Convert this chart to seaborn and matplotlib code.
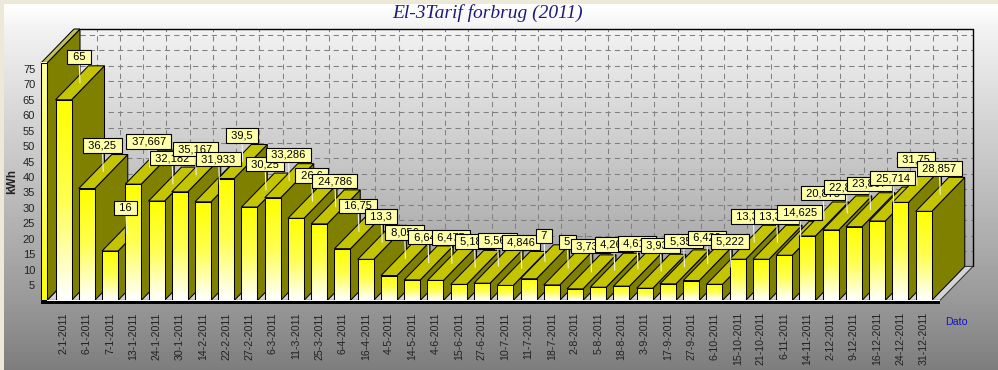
import numpy as np
import pandas as pd
import matplotlib
matplotlib.use("Agg")
import matplotlib.pyplot as plt
from matplotlib.colors import LinearSegmentedColormap
from matplotlib.patches import Polygon, Rectangle
import seaborn as sns

# --- Datos ---
dates = ["2-1-2011", "6-1-2011", "7-1-2011", "13-1-2011", "24-1-2011", "30-1-2011", "14-2-2011",
         "22-2-2011", "27-2-2011", "6-3-2011", "11-3-2011", "25-3-2011", "6-4-2011", "16-4-2011",
         "4-5-2011", "14-5-2011", "4-6-2011", "15-6-2011", "27-6-2011", "10-7-2011", "11-7-2011",
         "18-7-2011", "2-8-2011", "5-8-2011", "18-8-2011", "3-9-2011", "17-9-2011", "27-9-2011",
         "6-10-2011", "15-10-2011", "21-10-2011", "6-11-2011", "14-11-2011", "2-12-2011",
         "9-12-2011", "16-12-2011", "24-12-2011", "31-12-2011"]
kwh = [65, 36.25, 16, 37.667, 32.182, 35.167, 31.933, 39.5, 30.25, 33.286, 26.6, 24.786, 16.75,
       13.3, 8.056, 6.643, 6.475, 5.182, 5.567, 4.846, 7, 5, 3.733, 4.267, 4.615, 3.933, 5.357,
       6.429, 5.222, 13.333, 13.333, 14.625, 20.875, 22.833, 23.867, 25.714, 31.75, 28.857]
yticks = list(range(5, 80, 5))

# --- Geometria ---
W, H = 998, 370
PX_X = 23.25      # px por categoria
PX_Y = 3.086      # px por kWh
LEFT, RIGHT, BASE, TOP = 47, 940, 300.4, 63
XMIN = (LEFT - 63.5) / PX_X
XMAX = (RIGHT - 63.5) / PX_X
YMAX = (BASE - TOP) / PX_Y
DX = 33 / PX_X    # profundidad 3D
DY = 34 / PX_Y
BAR_W = 16 / PX_X
LW = 0.75

sns.set_theme(style="white")
plt.rcParams['font.family'] = ['Liberation Sans', 'DejaVu Sans']

fig = plt.figure(figsize=(W / 100, H / 100), dpi=100)

# fondo degradado
bg = fig.add_axes([0, 0, 1, 1], zorder=-1)
rows = np.arange(H)
shade = np.interp(rows, [5, 28, 300, 370], [1.0, 0.95, 0.60, 0.49])
bg.imshow(shade.reshape(-1, 1), cmap="gray", vmin=0, vmax=1, aspect="auto")
bg.axis("off")
# marco beige solo arriba e izquierda
fig.add_artist(Rectangle((0, 1 - 3.5 / H), 1, 3.5 / H, transform=fig.transFigure, fc="#ECE9D8", ec="none"))
fig.add_artist(Rectangle((0, 0), 3.5 / W, 1, transform=fig.transFigure, fc="#ECE9D8", ec="none"))

ax = fig.add_axes([LEFT / W, (H - BASE) / H, (RIGHT - LEFT) / W, (BASE - TOP) / H])
ax.patch.set_alpha(0)

df = pd.DataFrame({"Dato": dates, "kWh": kwh})
sns.barplot(data=df, x="Dato", y="kWh", width=BAR_W, color="#FFFF00", saturation=1,
            edgecolor="black", linewidth=LW, ax=ax)

positions = np.arange(len(dates))

# --- Paredes y suelo ---
ax.add_patch(Polygon([(XMIN, 0), (XMAX, 0), (XMAX + DX, DY), (XMIN + DX, DY)], closed=True,
                     fc="#D4D4D4", ec="#333333", lw=LW, clip_on=False, zorder=1))
ax.hlines(np.array(yticks) + DY, XMIN + DX, XMAX + DX, color="#808080", lw=LW,
          linestyles=(0, (5, 4)), clip_on=False, zorder=1.1)
ax.vlines(positions + DX, DY, YMAX + DY, color="#808080", lw=LW,
          linestyles=(0, (5, 4)), clip_on=False, zorder=1.1)
ax.plot([XMIN + DX, XMAX + DX, XMAX + DX], [YMAX + DY, YMAX + DY, DY], color="black", lw=1,
        clip_on=False, zorder=1.2)
ax.add_patch(Polygon([(XMIN, 0), (XMIN + DX, DY), (XMIN + DX, YMAX + DY), (XMIN, YMAX)], closed=True,
                     fc="#808000", ec="black", lw=LW, clip_on=False, zorder=1.5))
strip = 6 / PX_X
ax.add_patch(Polygon([(XMIN - strip, YMAX), (XMIN, YMAX), (XMIN + DX, YMAX + DY),
                      (XMIN + DX - strip, YMAX + DY)], closed=True,
                     fc="#C0C060", ec="black", lw=LW, clip_on=False, zorder=1.5))
wall_cmap = LinearSegmentedColormap.from_list("wall", ["#FFFF99", "#FFFF66", "#FFFF00"])
wall = ax.imshow(np.linspace(0, 1, 64).reshape(-1, 1), cmap=wall_cmap, aspect="auto",
                 extent=[XMIN - strip, XMIN, 0, YMAX], zorder=1.6, clip_on=False)
ax.add_patch(Rectangle((XMIN - strip, 0), strip, YMAX, fill=False, ec="black", lw=LW,
                       clip_on=False, zorder=1.7))
# borde frontal del suelo
ax.add_patch(Rectangle((XMIN, -1 / PX_Y), XMAX - XMIN, 1.5 / PX_Y, fc="white", ec="none",
                       clip_on=False, zorder=50))
ax.add_patch(Rectangle((XMIN - strip, -3.8 / PX_Y), XMAX - XMIN + strip, 2.8 / PX_Y, fc="black", ec="none",
                       clip_on=False, zorder=50))

# --- Barras 3D (de izquierda a derecha, las de la derecha tapan) ---
bar_cmap = LinearSegmentedColormap.from_list("bar", ["#FFFF00", "#FFFF50", "#FFFFFF"])
for i, (patch, v) in enumerate(zip(ax.patches[:len(kwh)], kwh)):
    x0, w = patch.get_x(), patch.get_width()
    x1 = x0 + w
    z = 3 + i * 0.1
    ax.add_patch(Polygon([(x1, 0), (x1 + DX, DY), (x1 + DX, v + DY), (x1, v)], closed=True,
                         fc="#808000", ec="black", lw=LW, clip_on=False, zorder=z))
    ax.add_patch(Polygon([(x0, v), (x1, v), (x1 + DX, v + DY), (x0 + DX, v + DY)], closed=True,
                         fc="#C4C400", ec="black", lw=LW, clip_on=False, zorder=z))
    im = ax.imshow(np.linspace(0, 1, 64).reshape(-1, 1), cmap=bar_cmap, aspect="auto",
                   extent=[x0, x1, 0, v], zorder=z + 0.01)
    patch.set_facecolor("none")
    patch.set_zorder(z + 0.02)
    patch.set_clip_on(False)
    im.set_clip_path(patch)

# --- Etiquetas de valor ---
for i, v in enumerate(kwh):
    label = " " + f"{v:g}".replace(".", ",") + " "
    ax.annotate(label, xy=(i + DX / 2, v + DY / 2), xytext=(-0.7, 15), textcoords="offset points",
                ha="center", va="bottom", fontsize=8, color="black", zorder=100 + i,
                annotation_clip=False,
                bbox=dict(boxstyle="square,pad=0.2", fc="#FFFFA8", ec="black", lw=0.8),
                arrowprops=dict(arrowstyle="-", color="#F0F0F0", lw=0.8, shrinkA=0, shrinkB=0))

ax.set_xlim(XMIN, XMAX)
ax.set_ylim(0, YMAX)
ax.set_yticks(yticks)
ax.set_xticks(positions)
ax.set_xticklabels(dates, rotation=90)
ax.tick_params(axis="x", length=0, pad=8.5, labelsize=7.7, labelcolor="#222222")
ax.tick_params(axis="y", length=0, pad=8.5, labelsize=8, labelcolor="#222222")
ax.set_ylabel("kWh", fontsize=8.5, fontweight="bold", color="#222222")
ax.yaxis.set_label_coords((18 - LEFT) / (RIGHT - LEFT), (BASE - 182) / (BASE - TOP))
ax.set_xlabel("Dato", fontsize=7.7, color="#1414D2")
ax.xaxis.set_label_coords((956 - LEFT) / (RIGHT - LEFT), (BASE - 322) / (BASE - TOP))
ax.xaxis.label.set_verticalalignment("center")
sns.despine(ax=ax, left=True, bottom=True)
ax.grid(False)

fig.text(488 / W, 1 - 13 / H, "El-3Tarif forbrug (2011)", family="Liberation Serif", style="italic",
         fontsize=14, color="#1B1B78", ha="center", va="center")

fig.savefig("out.png", dpi=100)
